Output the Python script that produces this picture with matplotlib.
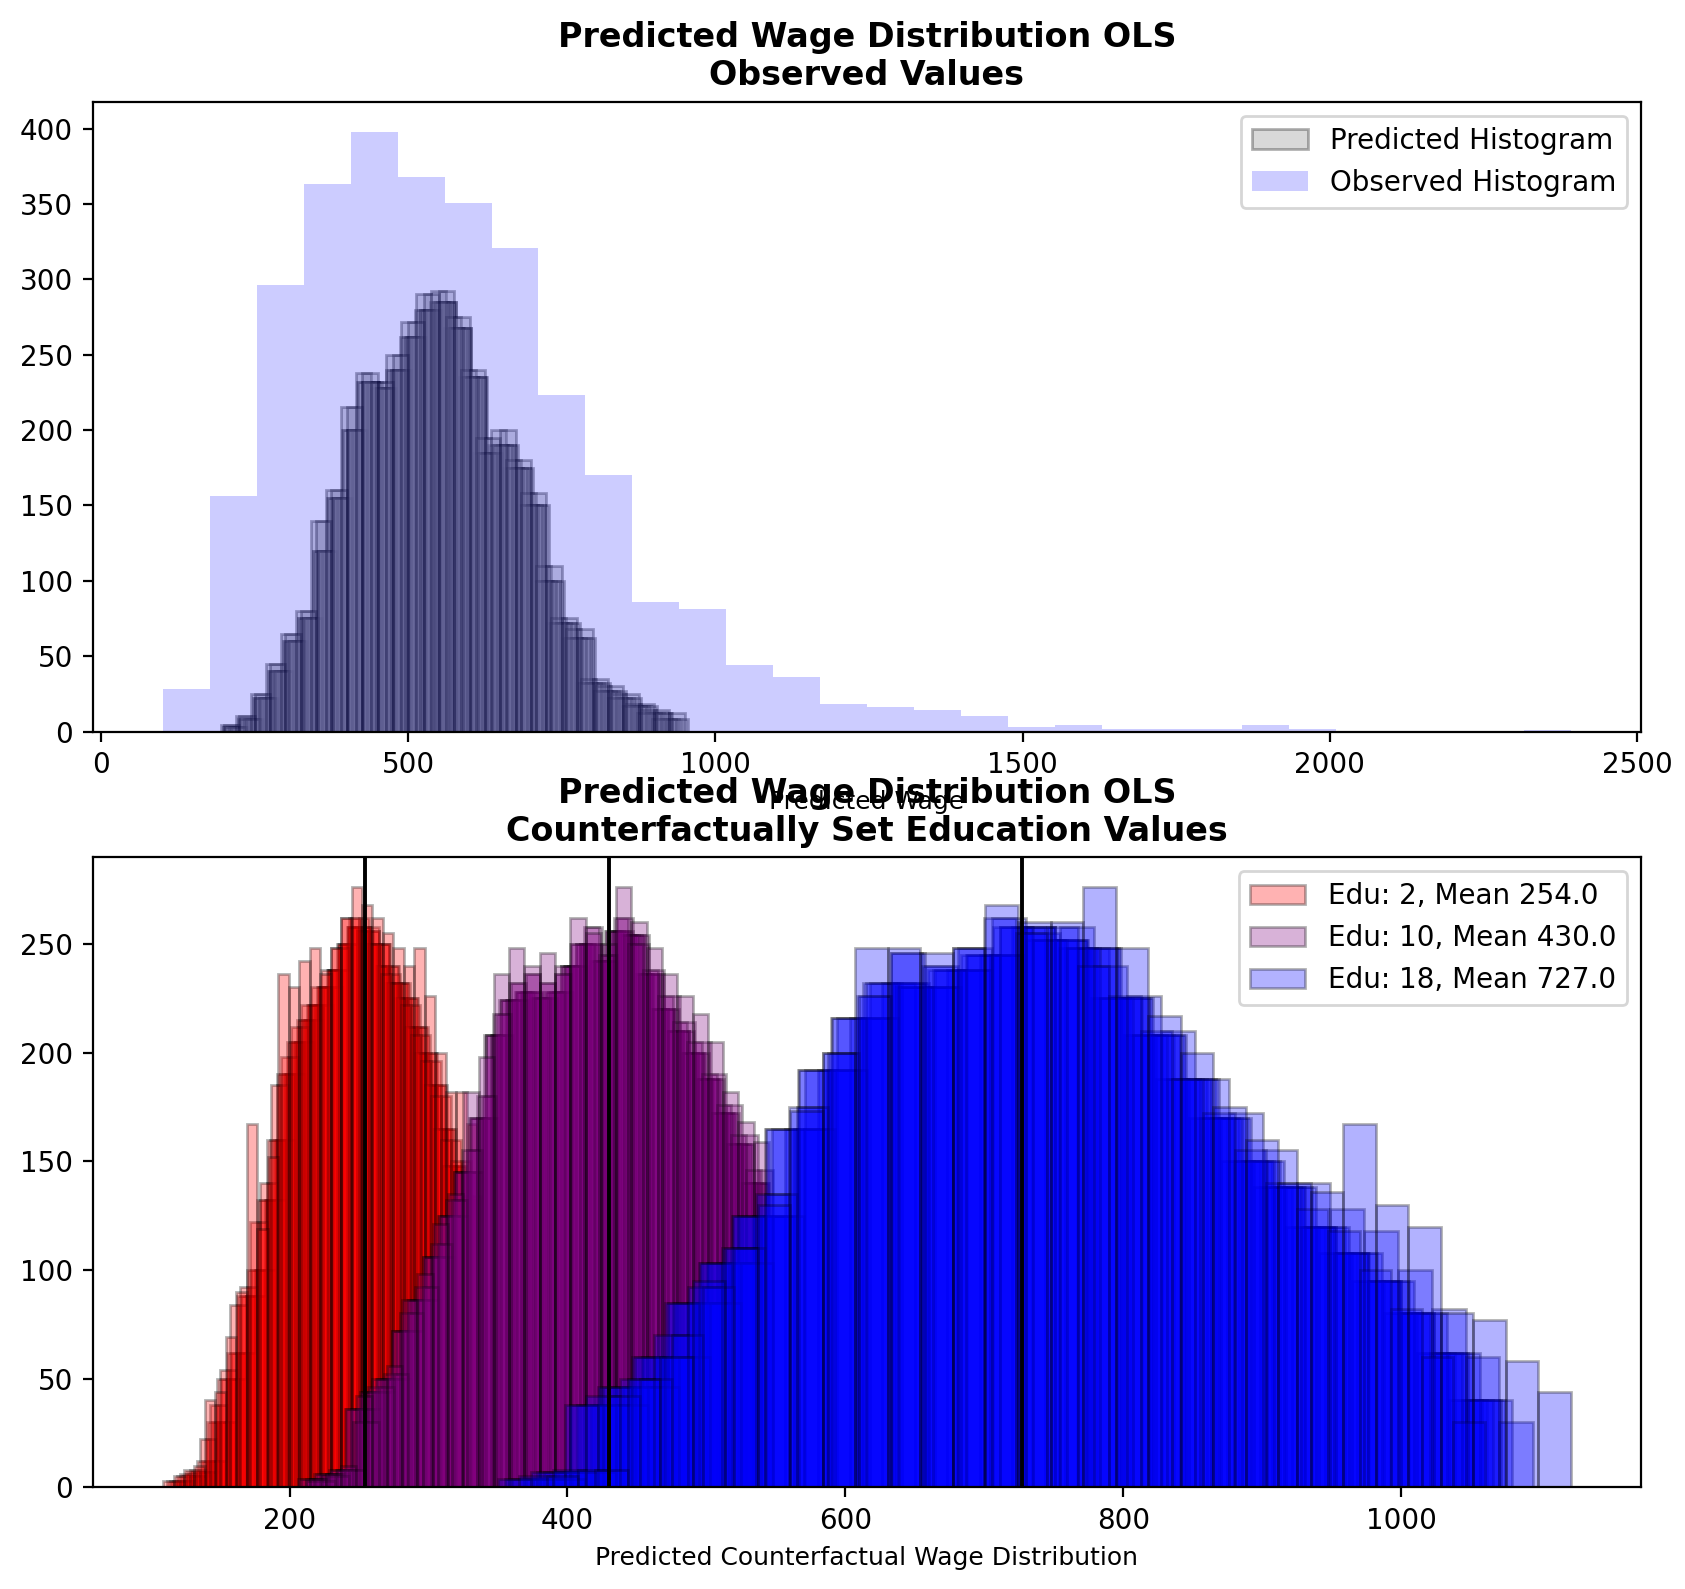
import numpy as np
import matplotlib
matplotlib.use("Agg")
import matplotlib.pyplot as plt

# observed wages: 30 bins over the observed range
obs_range = (101, 2392)
obs_counts = [28, 156, 296, 363, 398, 368, 351, 321, 223, 170,
              86, 81, 44, 36, 18, 16, 14, 10, 3, 4,
              2, 2, 2, 4, 2, 0, 0, 0, 0, 1]

# predicted wages (OLS), bootstrap resample histograms (30 bins each)
pred_counts = [3, 8, 22, 40, 60, 75, 120, 155, 200, 232,
               228, 240, 262, 280, 285, 268, 235, 185, 190, 175,
               150, 100, 72, 62, 32, 27, 22, 17, 12, 8]
pred_counts_c = [4, 10, 25, 45, 65, 80, 140, 160, 215, 238,
                 232, 250, 272, 290, 292, 275, 240, 195, 200, 180,
                 158, 110, 75, 68, 35, 30, 25, 18, 14, 12]
# min / max of each resample
pred_ranges = [(198, 930), (205, 945), (210, 925), (202, 915), (215, 940),
               (200, 955), (208, 935), (212, 920)]
pred_ranges_c = [(196, 928), (200, 950)]

# counterfactual education values
edu_levels = [2, 10, 18]
edu_means = [254.0, 430.0, 727.0]
edu_colors = ["red", "purple", "blue"]

red_counts = [3, 5, 7, 12, 30, 50, 62, 88, 100, 132,
              160, 190, 205, 215, 222, 230, 238, 250, 258, 256,
              250, 240, 232, 225, 212, 200, 185, 165, 148, 132]
red_counts_b = [3, 5, 8, 10, 40, 44, 69, 90, 167, 119,
                152, 236, 230, 242, 248, 236, 248, 262, 276, 268,
                262, 255, 248, 240, 248, 226, 200, 182, 182, 167]
red_counts_c = [3, 6, 8, 22, 38, 54, 84, 92, 122, 140,
                185, 198, 212, 222, 230, 238, 248, 262, 262, 258,
                250, 236, 232, 222, 208, 196, 180, 160, 150, 134]
red_ranges = [(120, 330), (116, 326), (126, 334), (122, 322), (130, 332),
              (112, 328), (124, 324)]
red_ranges_b = [(109, 335)]
red_ranges_c = [(118, 338), (114, 331)]

purple_counts = [4, 6, 8, 36, 44, 50, 72, 86, 106, 125,
                 145, 170, 208, 224, 228, 225, 228, 240, 250, 242,
                 256, 254, 236, 220, 210, 200, 188, 172, 158, 140]
purple_counts_b = [4, 6, 10, 42, 50, 56, 86, 98, 121, 135,
                   182, 198, 236, 248, 240, 246, 240, 262, 255, 250,
                   276, 260, 248, 236, 226, 218, 205, 182, 168, 159]
purple_counts_c = [3, 5, 8, 30, 46, 52, 80, 92, 112, 132,
                   155, 180, 218, 232, 236, 232, 236, 250, 258, 245,
                   262, 250, 238, 226, 214, 205, 190, 176, 162, 146]
purple_ranges = [(215, 542), (208, 538), (220, 545), (212, 535), (224, 540),
                 (206, 544), (218, 536)]
purple_ranges_b = [(215, 545)]
purple_ranges_c = [(212, 548), (222, 539)]

blue_counts = [4, 7, 38, 46, 60, 85, 103, 125, 165, 192,
               216, 232, 230, 238, 245, 258, 252, 248, 225, 208,
               188, 170, 150, 138, 120, 108, 95, 80, 62, 40]
blue_counts_b = [8, 50, 60, 95, 110, 130, 173, 200, 248, 248,
                 246, 248, 268, 260, 260, 276, 248, 217, 200, 175,
                 160, 140, 136, 167, 130, 120, 80, 77, 58, 44]
blue_counts_c = [5, 8, 42, 50, 70, 92, 110, 135, 175, 200,
                 226, 246, 240, 248, 262, 255, 258, 240, 226, 210,
                 188, 172, 155, 140, 128, 118, 100, 82, 60, 30]
blue_ranges = [(370, 1070), (360, 1062), (380, 1075), (355, 1058), (375, 1080),
               (390, 1066), (350, 1072)]
blue_ranges_b = [(420, 1122)]
blue_ranges_c = [(365, 1095), (385, 1060)]

pred_sets = [(pred_counts, pred_ranges), (pred_counts_c, pred_ranges_c)]
groups = [
    [(red_counts, red_ranges), (red_counts_c, red_ranges_c), (red_counts_b, red_ranges_b)],
    [(purple_counts, purple_ranges), (purple_counts_c, purple_ranges_c), (purple_counts_b, purple_ranges_b)],
    [(blue_counts, blue_ranges), (blue_counts_c, blue_ranges_c), (blue_counts_b, blue_ranges_b)],
]


def draw_hist(ax, counts, rng, **kw):
    edges = np.linspace(rng[0], rng[1], len(counts) + 1)
    centers = (edges[:-1] + edges[1:]) / 2
    ax.hist(centers, bins=edges, weights=counts, **kw)


fig, (ax1, ax2) = plt.subplots(2, 1, figsize=(8.425, 7.945), dpi=200)
fig.subplots_adjust(left=0.055, right=0.974, top=0.936, bottom=0.064, hspace=0.2)

# top: predicted vs observed
first = True
for counts, ranges in pred_sets:
    for rng in ranges:
        draw_hist(ax1, counts, rng, color="grey", alpha=0.3, edgecolor="black",
                  label="Predicted Histogram" if first else None)
        first = False
draw_hist(ax1, obs_counts, obs_range, color="blue", alpha=0.2,
          label="Observed Histogram")
ax1.set_title("Predicted Wage Distribution OLS\nObserved Values",
              fontweight="bold", fontsize=12)
ax1.set_xlabel("Predicted Wage", fontsize=9)
ax1.legend(loc="upper right")

# bottom: counterfactual education
for sets, edu, mean, col in zip(groups, edu_levels, edu_means, edu_colors):
    first = True
    for counts, ranges in sets:
        for rng in ranges:
            draw_hist(ax2, counts, rng, color=col, alpha=0.3, edgecolor="black",
                      label="Edu: %d, Mean %.1f" % (edu, mean) if first else None)
            first = False
for mean in edu_means:
    ax2.axvline(mean, color="black", lw=1.4)
ax2.set_title("Predicted Wage Distribution OLS\nCounterfactually Set Education Values",
              fontweight="bold", fontsize=12)
ax2.set_xlabel("Predicted Counterfactual Wage Distribution", fontsize=9)
ax2.legend(loc="upper right")

fig.savefig("out.png", dpi=200)
